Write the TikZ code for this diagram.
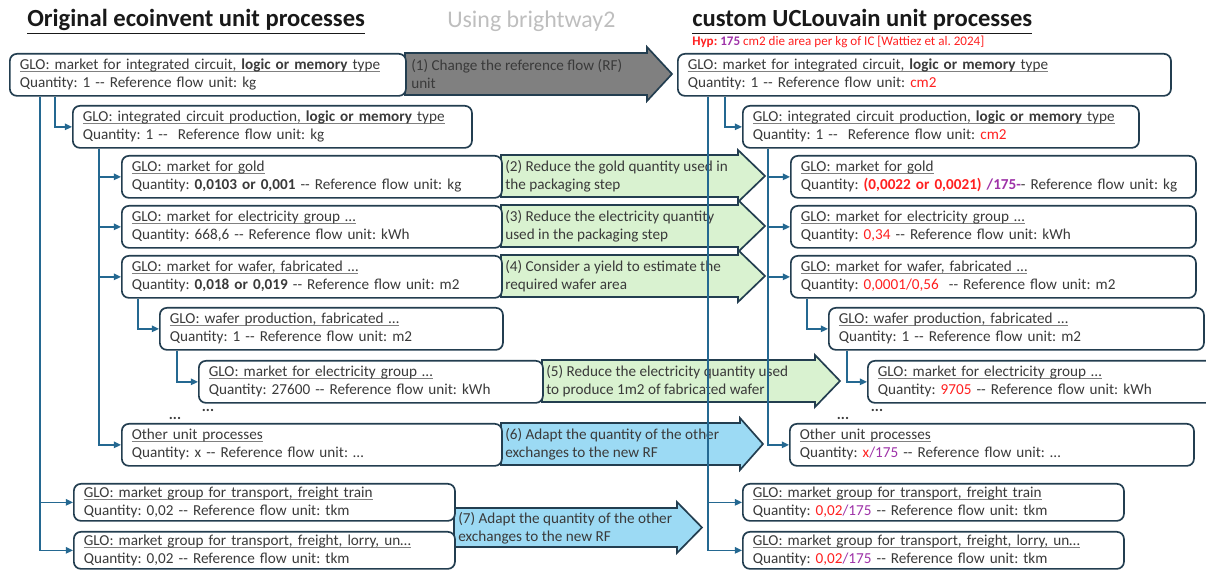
\documentclass[tikz,border=0pt]{standalone}
\usepackage{fontspec}
\setmainfont{Carlito}
\usepackage{xcolor}
\usepackage{tikz}
\usetikzlibrary{calc,arrows.meta}
\definecolor{boxline}{RGB}{35,62,80}
\definecolor{linkblue}{RGB}{36,104,145}
\definecolor{stepgreen}{RGB}{217,242,208}
\definecolor{stepblue}{RGB}{156,218,244}
\definecolor{stepgray}{RGB}{128,128,128}
\definecolor{bodytext}{RGB}{58,58,58}
\definecolor{hypred}{RGB}{255,32,32}
\definecolor{hyppurple}{RGB}{158,50,168}
\definecolor{subgray}{RGB}{190,190,190}
\frenchspacing
\newcommand{\boxfont}{\fontsize{10.8}{12.8}\selectfont}
\newcommand{\dsh}{-{}-}
\newcommand{\hr}[1]{\textcolor{hypred}{#1}}
\newcommand{\hp}[1]{\textcolor{hyppurple}{#1}}
\newcommand{\gline}[1]{\setbox0\hbox{#1}\rlap{\textcolor{gray}{\rule[-1.6pt]{\wd0}{0.5pt}}}\box0}
% fill, left x, body top, body bottom, head x, tip x, head overhang
\newcommand{\flowarrow}[7]{%
  \draw[draw=boxline, line width=1.2pt, fill=#1]
    (#2,#3) -- (#5,#3) -- (#5,{#3-#7}) -- (#6,{(#3+#4)/2})
    -- (#5,{#4+#7}) -- (#5,#4) -- (#2,#4) -- cycle;}

\begin{document}
\begin{tikzpicture}[x=0.025cm, y=-0.025cm,
  proc/.style={draw=boxline, line width=1.2pt, rounded corners=5pt, fill=white,
    anchor=north west, align=left, inner xsep=0.25cm, inner ysep=0pt,
    minimum height=1.05cm, font=\boxfont, text=bodytext},
  short/.style={minimum height=0.925cm},
  hint/.style={anchor=west, align=left, inner xsep=0.1cm, font=\boxfont, text=bodytext},
  link/.style={draw=linkblue, line width=1.1pt, -{Triangle[length=5pt,width=4.5pt]}},
  dots/.style={font=\boxfont\bfseries, text=bodytext, inner sep=0pt},
  title/.style={anchor=base west, inner sep=0pt, font=\fontsize{17.5}{20}\selectfont\bfseries, text=black!90}
]
\useasboundingbox (0,0) rectangle (1206,570);
\clip (0,0) rectangle (1206,570);
% Headings
\node[title] (hl) at (27,27) {\underline{Original ecoinvent unit processes}};
\node[anchor=base west, inner sep=0pt, font=\fontsize{17}{20}\selectfont, text=subgray]
  (hm) at (447,28) {Using brightway2};
\node[title] (hr) at (692,27) {\underline{custom UCLouvain unit processes}};
\node[anchor=base west, inner sep=0pt, font=\fontsize{9.3}{11}\selectfont, text=hypred]
  (hyp) at (692,46) {\textbf{Hyp:} \hp{\textbf{175}} cm2 die area per kg of IC [Wattiez et al. 2024]};
% Modification steps (block arrows, drawn below the boxes)
\flowarrow{stepgray}{405}{53}{95}{647}{672}{6}
\flowarrow{stepgreen}{501}{155}{197}{738}{765}{5}
\flowarrow{stepgreen}{501}{205}{247}{738}{765}{5}
\flowarrow{stepgreen}{501}{255}{297}{738}{765}{5}
\flowarrow{stepgreen}{542}{360}{402}{815}{840}{5}
\flowarrow{stepblue}{501}{423}{465}{740}{763}{5}
\flowarrow{stepblue}{454}{508}{547}{677}{702}{6}
\node[hint, inner xsep=0.15cm] (t1) at (405,74) {(1) Change the reference flow (RF)\\unit};
\node[hint] (t2) at (501,176) {(2) Reduce the gold quantity used in\\the packaging step};
\node[hint] (t3) at (501,226) {(3) Reduce the electricity quantity\\used in the packaging step};
\node[hint] (t4) at (501,276) {(4) Consider a yield to estimate the\\required wafer area};
\node[hint] (t5) at (542,381) {(5) Reduce the electricity quantity used\\to produce 1m2 of fabricated wafer};
\node[hint] (t6) at (501,444) {(6) Adapt the quantity of the other\\exchanges to the new RF};
\node[hint] (t7) at (454,528) {(7) Adapt the quantity of the other\\exchanges to the new RF};
% Left column: original ecoinvent unit processes
\node[proc, text width=9.4cm] (l1) at (9,53)
  {\gline{GLO: market for integrated circuit, \textbf{logic or memory} type}\\Quantity: 1 \dsh{} Reference flow unit: kg};
\node[proc, text width=9.475cm] (l2) at (72,105)
  {\gline{GLO: integrated circuit production, \textbf{logic or memory} type}\\Quantity: 1 \dsh\ \ Reference flow unit: kg};
\node[proc, text width=9cm] (l3) at (121,155)
  {\gline{GLO: market for gold}\\Quantity: \textbf{0,0103 or 0,001} \dsh{} Reference flow unit: kg};
\node[proc, text width=9cm] (l4) at (121,205)
  {\gline{GLO: market for electricity group \dots}\\Quantity: 668,6 \dsh{} Reference flow unit: kWh};
\node[proc, text width=9cm] (l5) at (121,255)
  {\gline{GLO: market for wafer, fabricated \dots}\\Quantity: \textbf{0,018 or 0,019} \dsh{} Reference flow unit: m2};
\node[proc, text width=8.075cm] (l6) at (159,307)
  {\gline{GLO: wafer production, fabricated \dots}\\Quantity: 1 \dsh{} Reference flow unit: m2};
\node[proc, text width=8.1cm] (l7) at (198,360)
  {\gline{GLO: market for electricity group \dots}\\Quantity: 27600 \dsh{} Reference flow unit: kWh};
\node[dots] (d1) at (208,410) {...};
\node[dots] (d2) at (175,418) {...};
\node[proc, text width=9cm] (l8) at (121,423)
  {\gline{Other unit processes}\\Quantity: x \dsh{} Reference flow unit: \dots};
\node[proc, short, text width=9.025cm] (l9) at (73,483)
  {\gline{GLO: market group for transport, freight train}\\Quantity: 0,02 \dsh{} Reference flow unit: tkm};
\node[proc, short, text width=9.025cm] (l10) at (73,531)
  {\gline{GLO: market group for transport, freight, lorry, un\dots}\\Quantity: 0,02 \dsh{} Reference flow unit: tkm};
% Right column: custom UCLouvain unit processes
\node[proc, text width=11.825cm] (r1) at (677,53)
  {\gline{GLO: market for integrated circuit, \textbf{logic or memory} type}\\Quantity: 1 \dsh{} Reference flow unit: \hr{cm2}};
\node[proc, text width=9.4cm] (r2) at (742,105)
  {\gline{GLO: integrated circuit production, \textbf{logic or memory} type}\\Quantity: 1 \dsh\ \ Reference flow unit: \hr{cm2}};
\node[proc, text width=9.625cm] (r3) at (790,155)
  {\gline{GLO: market for gold}\\Quantity: \hr{\textbf{(0,0022 or 0,0021)}} \hp{\textbf{/175-}}- Reference flow unit: kg};
\node[proc, text width=9.625cm] (r4) at (790,205)
  {\gline{GLO: market for electricity group \dots}\\Quantity: \hr{0,34} \dsh{} Reference flow unit: kWh};
\node[proc, text width=9.625cm] (r5) at (790,255)
  {\gline{GLO: market for wafer, fabricated \dots}\\Quantity: \hr{0,0001/0,56}\ \ \dsh{} Reference flow unit: m2};
\node[proc, text width=8.875cm] (r6) at (828,307)
  {\gline{GLO: wafer production, fabricated \dots}\\Quantity: 1 \dsh{} Reference flow unit: m2};
\node[proc, text width=8.6cm] (r7) at (867,360)
  {\gline{GLO: market for electricity group \dots}\\Quantity: \hr{9705} \dsh{} Reference flow unit: kWh};
\node[dots] (d3) at (877,410) {...};
\node[dots] (d4) at (843,418) {...};
\node[proc, text width=9.6cm] (r8) at (789,423)
  {\gline{Other unit processes}\\Quantity: \hr{x}\hp{/175} \dsh{} Reference flow unit: \dots};
\node[proc, short, text width=9.025cm] (r9) at (742,483)
  {\gline{GLO: market group for transport, freight train}\\Quantity: \hr{0,02}\hp{/175} \dsh{} Reference flow unit: tkm};
\node[proc, short, text width=9.025cm] (r10) at (742,531)
  {\gline{GLO: market group for transport, freight, lorry, un\dots}\\Quantity: \hr{0,02}\hp{/175} \dsh{} Reference flow unit: tkm};
% Connectors, left column
\foreach \n in {l9,l10}
  \draw[link] ($(l1.south west)+(31,0)$) |- (\n.west);
\draw[link] ($(l1.south west)+(46,0)$) |- (l2.west);
\foreach \n in {l3,l4,l5,l8}
  \draw[link] ($(l2.south west)+(27,0)$) |- (\n.west);
\draw[link] ($(l5.south west)+(17,0)$) |- (l6.west);
\draw[link] ($(l6.south west)+(18,0)$) |- (l7.west);
% Connectors, right column
\foreach \n in {r9,r10}
  \draw[link] ($(r1.south west)+(31,0)$) |- (\n.west);
\draw[link] ($(r1.south west)+(48,0)$) |- (r2.west);
\foreach \n in {r3,r4,r5,r8}
  \draw[link] ($(r2.south west)+(26,0)$) |- (\n.west);
\draw[link] ($(r5.south west)+(17,0)$) |- (r6.west);
\draw[link] ($(r6.south west)+(19,0)$) |- (r7.west);
\end{tikzpicture}
\end{document}
